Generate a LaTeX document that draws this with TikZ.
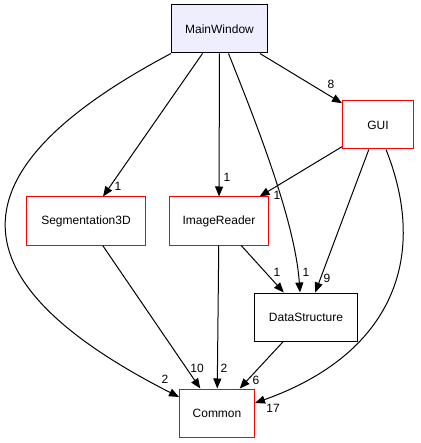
\documentclass[tikz,border=0pt]{standalone}
\usepackage{fontspec}
\setmainfont{Liberation Sans}
\usepackage{tikz}
\usetikzlibrary{arrows.meta}

\definecolor{mainfill}{RGB}{238,238,255}
\definecolor{dirred}{RGB}{255,0,0}

\begin{document}
\begin{tikzpicture}[x=1bp,y=-1bp,line width=1bp,
   dep/.style={-{Triangle[length=10bp,width=8bp]}},
   base dir/.style={rectangle,draw=black,font=\fontsize{12bp}{14bp}\selectfont,
     inner xsep=2bp,minimum height=48bp},
   main dir/.style={base dir,fill=mainfill},
   red dir/.style={base dir,draw=dirred},
   num/.style={font=\fontsize{12bp}{14bp}\selectfont,inner sep=0pt}]

  \useasboundingbox (0,0) rectangle (420,443);

  % borders on pixel centres
  \node[main dir,minimum width=96bp] (mw) at (219.5,29) {MainWindow};
  \node[red dir,minimum width=71bp] (gui) at (378,125) {GUI};
  \node[red dir,minimum width=119bp] (seg) at (86,221) {Segmentation3D};
  \node[red dir,minimum width=99bp] (ir) at (219,221) {ImageReader};
  \node[base dir,minimum width=103bp] (ds) at (306,317) {DataStructure};
  \node[red dir,minimum width=75bp] (cm) at (217,413) {Common};

  \begin{scope}[dep]
  \foreach \from/\to/\n/\p in {mw/seg/1/{118,186},mw/ir/1/{227,177},mw/gui/8/{331,84},
      gui/ir/1/{277,195},gui/ds/9/{327,278},ir/ds/1/{277,272},ir/cm/2/{224,368},
      seg/cm/10/{197,368},ds/cm/6/{256,380}}
    \draw (\from) -- (\to) node[num] at (\p) {\n};

  \draw (mw.south west) .. controls (-53,172) and (-47,282) .. ([yshift=16bp]cm.west)
    node[num] at (165,379) {2};
  \draw ([xshift=9bp]mw.south) .. controls (255,120) and (295,220) .. ([xshift=-6bp]ds.north)
    node[num] at (306,272) {1};
  \draw ([xshift=8bp]gui.south) .. controls (430,260) and (390,355) .. ([yshift=10bp]cm.east)
    node[num] at (273,408) {17};
  \end{scope}
\end{tikzpicture}
\end{document}
